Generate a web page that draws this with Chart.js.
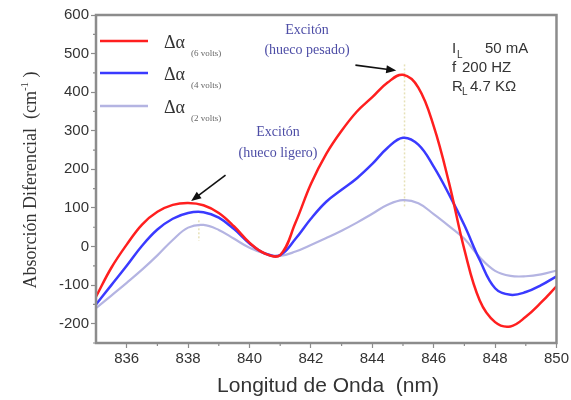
<!DOCTYPE html>
<html>
<head>
<meta charset="utf-8">
<script src="https://cdn.jsdelivr.net/npm/chart.js@4/dist/chart.umd.min.js"></script>
<style>
  body { margin: 0; background: #fff; }
  canvas { display: block; }
</style>
</head>
<body>
<canvas id="absChart" width="571" height="400"></canvas>
<script>
// longitud de onda (nm)
var wavelength = [835, 835.5, 836, 836.5, 837, 837.5, 838, 838.5, 839, 839.5, 840, 840.5, 841, 841.5, 842, 842.5,
  843, 843.5, 844, 844.5, 845, 845.5, 846, 846.5, 847, 847.5, 848, 848.5, 849, 849.5, 850];

// absorcion diferencial (cm-1)
var alpha6V = [-130, -55, 5, 57, 90, 108, 113, 107, 87, 52, 10, -18, -22, 62, 162, 240, 300, 350, 387, 425, 445,
  412, 312, 165, -8, -140, -196, -207, -182, -145, -103];
var alpha4V = [-150, -100, -50, 2, 44, 72, 87, 89, 75, 45, 8, -18, -22, 20, 72, 116, 147, 177, 214, 256, 282,
  264, 207, 135, 55, -35, -108, -125, -118, -100, -77];
var alpha2V = [-160, -127, -94, -60, -23, 17, 49, 56, 43, 20, -3, -18, -24, -13, 4, 22, 41, 62, 85, 108, 120,
  112, 84, 53, 20, -28, -63, -76, -77, -72, -62];

var seriesLabels = ['(6 volts)', '(4 volts)', '(2 volts)'];
var seriesColors = ['#ff1f1f', '#3a3aff', '#b4b4e2'];

var xTicks = [836, 838, 840, 842, 844, 846, 848, 850];
var xMinor = [837, 839, 841, 843, 845, 847, 849];
var yTicks = [-200, -100, 0, 100, 200, 300, 400, 500, 600];
var yMinor = [-250, -150, -50, 50, 150, 250, 350, 450, 550];

// lineas punteadas de los picos
var peakLines = [
  { x: 838.35, y1: 68, y2: 15 },
  { x: 845.05, y1: 472, y2: 102 }
];

function toPoints(xs, ys) {
  return xs.map(function(x, i) { return { x: x, y: ys[i] }; });
}

function arrow(ctx, x1, y1, x2, y2) {
  var ang = Math.atan2(y2 - y1, x2 - x1);
  ctx.save();
  ctx.strokeStyle = '#111';
  ctx.fillStyle = '#111';
  ctx.lineWidth = 1.6;
  ctx.beginPath();
  ctx.moveTo(x1, y1);
  ctx.lineTo(x2 - 6 * Math.cos(ang), y2 - 6 * Math.sin(ang));
  ctx.stroke();
  ctx.beginPath();
  ctx.moveTo(x2, y2);
  ctx.lineTo(x2 - 10 * Math.cos(ang) + 4 * Math.sin(ang), y2 - 10 * Math.sin(ang) - 4 * Math.cos(ang));
  ctx.lineTo(x2 - 10 * Math.cos(ang) - 4 * Math.sin(ang), y2 - 10 * Math.sin(ang) + 4 * Math.cos(ang));
  ctx.closePath();
  ctx.fill();
  ctx.restore();
}

var extrasPlugin = {
  id: 'extras',
  beforeDatasetsDraw: function(chart) {
    var ctx = chart.ctx, xs = chart.scales.x, ys = chart.scales.y;
    ctx.save();
    ctx.strokeStyle = '#e6e1b8';
    ctx.lineWidth = 1.5;
    ctx.setLineDash([2, 2]);
    peakLines.forEach(function(p) {
      ctx.beginPath();
      ctx.moveTo(xs.getPixelForValue(p.x), ys.getPixelForValue(p.y1));
      ctx.lineTo(xs.getPixelForValue(p.x), ys.getPixelForValue(p.y2));
      ctx.stroke();
    });
    ctx.restore();
  },
  afterDraw: function(chart) {
    var ctx = chart.ctx, a = chart.chartArea, xs = chart.scales.x, ys = chart.scales.y;
    ctx.save();

    // marco
    ctx.strokeStyle = '#8c8c8c';
    ctx.lineWidth = 2.5;
    ctx.strokeRect(a.left, a.top, a.right - a.left, a.bottom - a.top);

    // ticks menores
    ctx.lineWidth = 1.2;
    ctx.beginPath();
    xMinor.forEach(function(v) {
      var px = xs.getPixelForValue(v);
      ctx.moveTo(px, a.bottom);
      ctx.lineTo(px, a.bottom + 3);
    });
    yMinor.forEach(function(v) {
      var py = ys.getPixelForValue(v);
      ctx.moveTo(a.left, py);
      ctx.lineTo(a.left - 3, py);
    });
    ctx.stroke();

    // leyenda
    var legendY = [41, 73, 106];
    seriesLabels.forEach(function(lbl, i) {
      ctx.strokeStyle = seriesColors[i];
      ctx.lineWidth = 2.5;
      ctx.beginPath();
      ctx.moveTo(100, legendY[i]);
      ctx.lineTo(148, legendY[i]);
      ctx.stroke();
      ctx.fillStyle = '#333';
      ctx.textAlign = 'left';
      ctx.textBaseline = 'alphabetic';
      ctx.font = '18px "Liberation Serif", serif';
      ctx.fillText('\u0394\u03b1', 164, legendY[i] + 7);
      ctx.fillStyle = '#666';
      ctx.font = '9px "Liberation Serif", serif';
      ctx.fillText(lbl, 191, legendY[i] + 15);
    });

    // anotaciones de excitones
    ctx.fillStyle = '#4d4da6';
    ctx.textAlign = 'center';
    ctx.font = '14px "Liberation Serif", serif';
    ctx.fillText('Excitón', 307, 34);
    ctx.fillText('(hueco pesado)', 307, 54);
    ctx.fillText('Excitón', 278, 136);
    ctx.fillText('(hueco ligero)', 278, 157);

    arrow(ctx, xs.getPixelForValue(839.22), ys.getPixelForValue(185), xs.getPixelForValue(838.1), ys.getPixelForValue(118));
    arrow(ctx, xs.getPixelForValue(843.45), ys.getPixelForValue(470), xs.getPixelForValue(844.78), ys.getPixelForValue(456));

    // parametros
    ctx.fillStyle = '#333';
    ctx.textAlign = 'left';
    ctx.font = '15px "Liberation Sans", Arial, sans-serif';
    ctx.fillText('I', 452, 53);
    ctx.fillText('50 mA', 485, 53);
    ctx.fillText('f', 452, 72);
    ctx.fillText('200 HZ', 462, 72);
    ctx.fillText('R', 452, 91);
    ctx.fillText('4.7 K\u03a9', 470, 91);
    ctx.font = '10px "Liberation Sans", Arial, sans-serif';
    ctx.fillText('L', 457, 58);
    ctx.fillText('L', 462, 95);

    // titulo eje x
    ctx.textAlign = 'center';
    ctx.font = '21px "Liberation Sans", Arial, sans-serif';
    ctx.fillText('Longitud de Onda  (nm)', 328, 392);

    // titulo eje y
    ctx.translate(36, 180);
    ctx.rotate(-Math.PI / 2);
    ctx.font = '18px "Liberation Serif", serif';
    var t1 = 'Absorción Diferencial  (cm';
    var w1 = ctx.measureText(t1).width;
    ctx.font = '11px "Liberation Serif", serif';
    var w2 = ctx.measureText('-1').width;
    ctx.font = '18px "Liberation Serif", serif';
    var w3 = ctx.measureText(' )').width;
    var start = -(w1 + w2 + w3) / 2;
    ctx.textAlign = 'left';
    ctx.fillText(t1, start, 0);
    ctx.font = '11px "Liberation Serif", serif';
    ctx.fillText('-1', start + w1, -8);
    ctx.font = '18px "Liberation Serif", serif';
    ctx.fillText(' )', start + w1 + w2, 0);

    ctx.restore();
  }
};

new Chart(document.getElementById('absChart').getContext('2d'), {
  type: 'line',
  data: {
    datasets: [
      { label: seriesLabels[0], data: toPoints(wavelength, alpha6V), borderColor: seriesColors[0], borderWidth: 2.5 },
      { label: seriesLabels[1], data: toPoints(wavelength, alpha4V), borderColor: seriesColors[1], borderWidth: 2.5 },
      { label: seriesLabels[2], data: toPoints(wavelength, alpha2V), borderColor: seriesColors[2], borderWidth: 2.2 }
    ]
  },
  options: {
    responsive: false,
    animation: false,
    layout: { padding: { top: 15, right: 12, left: 0, bottom: 0 } },
    elements: {
      point: { radius: 0 },
      line: { tension: 0.4, fill: false }
    },
    plugins: {
      legend: { display: false },
      tooltip: { enabled: false }
    },
    scales: {
      x: {
        type: 'linear',
        min: 835,
        max: 850,
        afterBuildTicks: function(scale) {
          scale.ticks = xTicks.map(function(v) { return { value: v }; });
        },
        afterFit: function(scale) { scale.height = 57; },
        border: { display: false },
        grid: { drawOnChartArea: false, tickLength: 5, tickColor: '#8c8c8c', tickWidth: 1.2 },
        ticks: { color: '#333', padding: 2, maxRotation: 0, font: { family: '"Liberation Sans", Arial, sans-serif', size: 15 } }
      },
      y: {
        min: -250,
        max: 600,
        afterBuildTicks: function(scale) {
          scale.ticks = yTicks.map(function(v) { return { value: v }; });
        },
        afterFit: function(scale) { scale.width = 96; },
        border: { display: false },
        grid: { drawOnChartArea: false, tickLength: 5, tickColor: '#8c8c8c', tickWidth: 1.2 },
        ticks: { color: '#333', padding: 2, font: { family: '"Liberation Sans", Arial, sans-serif', size: 15 } }
      }
    }
  },
  plugins: [extrasPlugin]
});
</script>
</body>
</html>
